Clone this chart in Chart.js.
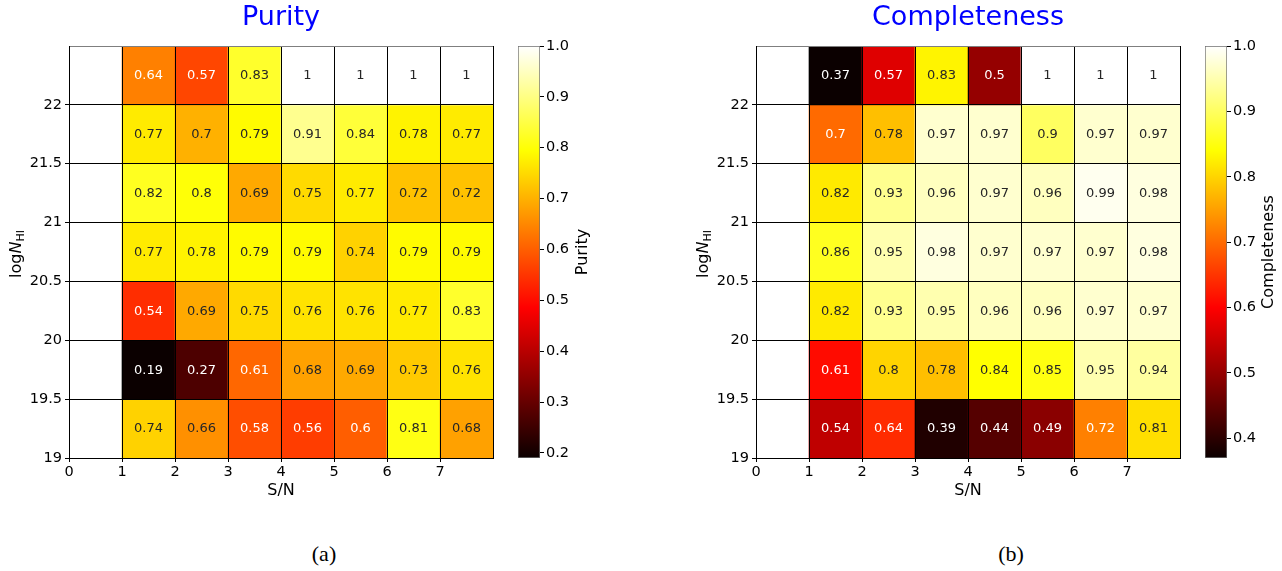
<!DOCTYPE html>
<html><head><meta charset="utf-8">
<script src="https://cdn.jsdelivr.net/npm/chart.js@4.4.1/dist/chart.umd.min.js"></script>
<style>
html,body{margin:0;padding:0;background:#fff;width:1282px;height:571px;overflow:hidden;position:relative;font-family:'DejaVu Sans',sans-serif;}
canvas{position:absolute;top:0;}
.cap{position:absolute;font-family:'Liberation Serif',serif;font-size:22px;transform:translate(-50%,-50%);color:#000;white-space:nowrap;}
</style></head><body>
<canvas id="heatA" width="500" height="520" style="left:0px"></canvas>
<canvas id="barA" width="130" height="520" style="left:510px"></canvas>
<canvas id="heatB" width="500" height="520" style="left:687px"></canvas>
<canvas id="barB" width="85" height="520" style="left:1197px"></canvas>
<div class="cap" style="left:324px;top:554px">(a)</div>
<div class="cap" style="left:1011px;top:554px">(b)</div>
<script>
// ---- data ----
const snEdges = [1, 2, 3, 4, 5, 6, 7];                 // lower edge of each S/N bin (width 1)
const nhiEdges = [22, 21.5, 21, 20.5, 20, 19.5, 19];   // lower edge of each logN_HI bin (width 0.5), top row first
const snWidth = 1;
const nhiWidth = 0.5;
const xTickLabels = [0, 1, 2, 3, 4, 5, 6, 7];
const yTickLabels = [19, 19.5, 20, 20.5, 21, 21.5, 22];
const purity = [
  [0.64, 0.57, 0.83, 1, 1, 1, 1],
  [0.77, 0.7, 0.79, 0.91, 0.84, 0.78, 0.77],
  [0.82, 0.8, 0.69, 0.75, 0.77, 0.72, 0.72],
  [0.77, 0.78, 0.79, 0.79, 0.74, 0.79, 0.79],
  [0.54, 0.69, 0.75, 0.76, 0.76, 0.77, 0.83],
  [0.19, 0.27, 0.61, 0.68, 0.69, 0.73, 0.76],
  [0.74, 0.66, 0.58, 0.56, 0.6, 0.81, 0.68]
];
const completeness = [
  [0.37, 0.57, 0.83, 0.5, 1, 1, 1],
  [0.7, 0.78, 0.97, 0.97, 0.9, 0.97, 0.97],
  [0.82, 0.93, 0.96, 0.97, 0.96, 0.99, 0.98],
  [0.86, 0.95, 0.98, 0.97, 0.97, 0.97, 0.98],
  [0.82, 0.93, 0.95, 0.96, 0.96, 0.97, 0.97],
  [0.61, 0.8, 0.78, 0.84, 0.85, 0.95, 0.94],
  [0.54, 0.64, 0.39, 0.44, 0.49, 0.72, 0.81]
];
const purityTicks = [0.2, 0.3, 0.4, 0.5, 0.6, 0.7, 0.8, 0.9, 1.0];
const complTicks = [0.4, 0.5, 0.6, 0.7, 0.8, 0.9, 1.0];

// ---- matplotlib 'hot' colormap ----
const K1 = 0.365079, K2 = 0.746032;
function hot(t) {
  t = Math.max(0, Math.min(1, t));
  const r = t < K1 ? 0.0416 + (1 - 0.0416) * t / K1 : 1;
  const g = t < K1 ? 0 : (t < K2 ? (t - K1) / (K2 - K1) : 1);
  const b = t < K2 ? 0 : (t - K2) / (1 - K2);
  return [r, g, b];
}
const css = c => `rgb(${Math.round(c[0]*255)},${Math.round(c[1]*255)},${Math.round(c[2]*255)})`;
function lum(c) {
  const f = v => v <= 0.03928 ? v / 12.92 : Math.pow((v + 0.055) / 1.055, 2.4);
  return 0.2126 * f(c[0]) + 0.7152 * f(c[1]) + 0.0722 * f(c[2]);
}
const FONT = "'DejaVu Sans'";

function drawYTitle(ctx, x, y) {
  ctx.save();
  ctx.translate(x, y);
  ctx.rotate(-Math.PI / 2);
  ctx.fillStyle = '#000';
  ctx.textBaseline = 'alphabetic';
  ctx.textAlign = 'left';
  const f1 = `16px ${FONT}`, f2 = `italic 16px ${FONT}`, f3 = `11px ${FONT}`;
  ctx.font = f1; const w1 = ctx.measureText('log').width;
  ctx.font = f2; const w2 = ctx.measureText('N').width;
  ctx.font = f3; const w3 = ctx.measureText('HI').width;
  let sx = -(w1 + w2 + w3) / 2;
  const base = 6;
  ctx.font = f1; ctx.fillText('log', sx, base); sx += w1;
  ctx.font = f2; ctx.fillText('N', sx, base); sx += w2;
  ctx.font = f3; ctx.fillText('HI', sx, base + 3);
  ctx.restore();
}

function makeHeat(id, values, title) {
  const flat = values.flat();
  const vmin = Math.min(...flat), vmax = Math.max(...flat);
  const yTop = Math.max(...nhiEdges) + nhiWidth;
  const xRight = Math.max(...snEdges) + snWidth;
  const datasets = nhiEdges.map((lo, i) => ({
    data: snEdges.map((s, j) => ({ x: s + snWidth / 2, y: [lo, lo + nhiWidth], v: values[i][j] })),
    backgroundColor: snEdges.map((s, j) => css(hot((values[i][j] - vmin) / (vmax - vmin)))),
    borderWidth: 0,
    grouped: false,
    barPercentage: 1,
    categoryPercentage: 1
  }));
  const annot = {
    id: 'annot',
    afterDatasetsDraw(chart) {
      const ctx = chart.ctx;
      ctx.save();
      ctx.font = `13px ${FONT}`;
      ctx.textAlign = 'center';
      ctx.textBaseline = 'middle';
      chart.data.datasets.forEach((ds, di) => {
        chart.getDatasetMeta(di).data.forEach((el, k) => {
          const v = ds.data[k].v;
          const c = hot((v - vmin) / (vmax - vmin));
          ctx.fillStyle = lum(c) > 0.408 ? '#262626' : '#ffffff';
          const p = el.getCenterPoint();
          ctx.fillText(String(v), p.x, p.y + 0.5);
        });
      });
      ctx.restore();
    },
    afterDraw(chart) {
      const ctx = chart.ctx, a = chart.chartArea;
      ctx.save();
      ctx.fillStyle = '#0000ff';
      ctx.font = `27px ${FONT}`;
      ctx.textAlign = 'center';
      ctx.textBaseline = 'middle';
      ctx.fillText(title, (a.left + a.right) / 2, 18);
      ctx.fillStyle = '#000';
      ctx.font = `16px ${FONT}`;
      ctx.fillText('S/N', (a.left + a.right) / 2, 491);
      ctx.restore();
      drawYTitle(ctx, 15, (a.top + a.bottom) / 2 + 2);
    }
  };
  return new Chart(document.getElementById(id), {
    type: 'bar',
    data: { datasets },
    plugins: [annot],
    options: {
      responsive: false, animation: false,
      layout: { padding: { top: 46, right: 7, left: 0, bottom: 0 } },
      plugins: { legend: { display: false }, tooltip: { enabled: false } },
      scales: {
        x: {
          type: 'linear', min: 0, max: xRight, offset: false,
          afterBuildTicks: s => { const t = []; for (let v = 0; v <= xRight; v += snWidth) t.push({ value: v }); s.ticks = t; },
          afterFit: s => { s.height = 62; },
          ticks: { autoSkip: false, maxRotation: 0, padding: 2, color: '#000', font: { family: FONT, size: 14.5 },
                   callback: v => xTickLabels.includes(v) ? String(v) : '' },
          grid: { offset: false, z: 1, color: '#000', lineWidth: 1, tickLength: 4,
                  tickColor: c => (c.tick && xTickLabels.includes(c.tick.value)) ? '#000' : 'rgba(0,0,0,0)' },
          border: { z: 1, color: '#000' }
        },
        y: {
          type: 'linear', min: Math.min(...nhiEdges), max: yTop,
          afterBuildTicks: s => { s.ticks = [...nhiEdges].reverse().concat([yTop]).map(v => ({ value: v })); },
          afterFit: s => { s.width = 69; },
          ticks: { autoSkip: false, padding: 3, color: '#000', font: { family: FONT, size: 14.5 },
                   callback: v => yTickLabels.includes(v) ? String(v) : '' },
          grid: { z: 1, lineWidth: 1, tickLength: 4,
                  color: c => (c.tick && c.tick.value === yTop) ? '#7f7f7f' : '#000',
                  tickColor: c => (c.tick && yTickLabels.includes(c.tick.value)) ? '#000' : 'rgba(0,0,0,0)' },
          border: { z: 1, color: '#000' }
        }
      }
    }
  });
}

function makeBar(id, values, ticks, label, labelX, width) {
  const flat = values.flat();
  const vmin = Math.min(...flat), vmax = Math.max(...flat);
  const lab = {
    id: 'cblab',
    afterDraw(chart) {
      const ctx = chart.ctx, a = chart.chartArea;
      ctx.save();
      ctx.translate(labelX, (a.top + a.bottom) / 2);
      ctx.rotate(-Math.PI / 2);
      ctx.fillStyle = '#000';
      ctx.font = `16px ${FONT}`;
      ctx.textAlign = 'center';
      ctx.textBaseline = 'middle';
      ctx.fillText(label, 0, 0);
      ctx.restore();
    }
  };
  return new Chart(document.getElementById(id), {
    type: 'bar',
    data: {
      labels: [label],
      datasets: [{
        data: [[vmin, vmax]],
        backgroundColor: c => {
          const ch = c.chart, ys = ch.scales.y;
          if (!ch.chartArea || !ys) return '#000';
          const g = ch.ctx.createLinearGradient(0, ys.getPixelForValue(vmin), 0, ys.getPixelForValue(vmax));
          [0, K1, K2, 1].forEach(t => g.addColorStop(t, css(hot(t))));
          return g;
        },
        borderWidth: 1, borderColor: '#6f6f6f', borderSkipped: false,
        barPercentage: 1, categoryPercentage: 1
      }]
    },
    plugins: [lab],
    options: {
      responsive: false, animation: false,
      layout: { padding: { top: 46, left: 8, right: 0, bottom: 62 } },
      plugins: { legend: { display: false }, tooltip: { enabled: false } },
      scales: {
        x: { display: false },
        y: {
          position: 'right', min: vmin, max: vmax,
          afterBuildTicks: s => { s.ticks = ticks.map(v => ({ value: v })); },
          afterFit: s => { s.width = width - 30; },
          ticks: { padding: 2, color: '#000', font: { family: FONT, size: 14.5 }, callback: v => v.toFixed(1) },
          grid: { drawOnChartArea: false, drawTicks: true, tickLength: 4, color: '#000' },
          border: { display: false }
        }
      }
    }
  });
}

makeHeat('heatA', purity, 'Purity');
makeBar('barA', purity, purityTicks, 'Purity', 73, 130);
makeHeat('heatB', completeness, 'Completeness');
makeBar('barB', completeness, complTicks, 'Completeness', 72, 85);
</script>
</body></html>
